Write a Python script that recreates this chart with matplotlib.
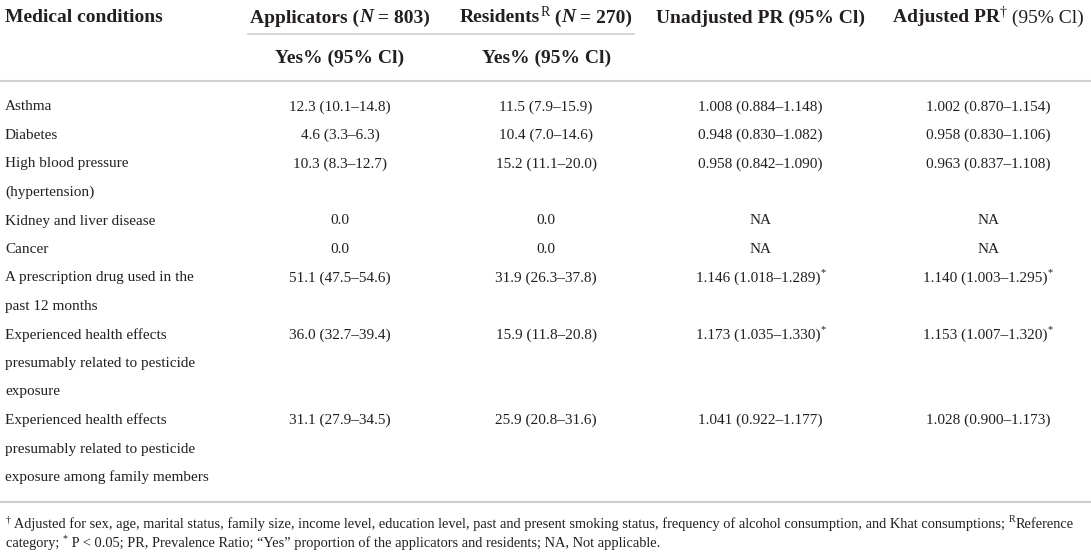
import matplotlib.pyplot as plt

# table content
conditions = [
    ["Asthma"],
    ["Diabetes"],
    ["High blood pressure", "(hypertension)"],
    ["Kidney and liver disease"],
    ["Cancer"],
    ["A prescription drug used in the", "past 12 months"],
    ["Experienced health effects", "presumably related to pesticide", "exposure"],
    ["Experienced health effects", "presumably related to pesticide",
     "exposure among family members"],
]
applicators = ["12.3 (10.1–14.8)", "4.6 (3.3–6.3)", "10.3 (8.3–12.7)", "0.0", "0.0",
               "51.1 (47.5–54.6)", "36.0 (32.7–39.4)", "31.1 (27.9–34.5)"]
residents = ["11.5 (7.9–15.9)", "10.4 (7.0–14.6)", "15.2 (11.1–20.0)", "0.0", "0.0",
             "31.9 (26.3–37.8)", "15.9 (11.8–20.8)", "25.9 (20.8–31.6)"]
unadjusted = ["1.008 (0.884–1.148)", "0.948 (0.830–1.082)", "0.958 (0.842–1.090)", "NA", "NA",
              "1.146 (1.018–1.289)*", "1.173 (1.035–1.330)*", "1.041 (0.922–1.177)"]
adjusted = ["1.002 (0.870–1.154)", "0.958 (0.830–1.106)", "0.963 (0.837–1.108)", "NA", "NA",
            "1.140 (1.003–1.295)*", "1.153 (1.007–1.320)*", "1.028 (0.900–1.173)"]

foot1 = (" Adjusted for sex, age, marital status, family size, income level, education level, "
         "past and present smoking status, frequency of alcohol consumption, and Khat consumptions; ")
foot2 = (" P < 0.05; PR, Prevalence Ratio; “Yes” proportion of the applicators and residents; "
         "NA, Not applicable.")

plt.rcParams['font.family'] = ['Liberation Serif', 'DejaVu Serif']
INK = '#231f20'
RULE = '#cfcfcf'

fig = plt.figure(figsize=(10.91, 5.53), dpi=100)
ax = fig.add_axes([0, 0, 1, 1])
ax.set_xlim(0, 1091)
ax.set_ylim(553, 0)
ax.axis('off')
renderer = fig.canvas.get_renderer()


# draw a list of (text, props) pieces one after another on a line
def draw_runs(x, y, runs, ha='left'):
    texts = []
    widths = []
    for s, props in runs:
        p = dict(props)
        dy = p.pop('dy', 0)
        t = ax.text(0, y + dy, s, va='center', ha='left', color=INK, **p)
        texts.append(t)
        widths.append(t.get_window_extent(renderer).width)
    total = sum(widths)
    if ha == 'center':
        x = x - total / 2
    elif ha == 'right':
        x = x - total
    for t, w in zip(texts, widths):
        t.set_x(x)
        x += w
    return total


B = dict(size=14, weight='bold')
BI = dict(size=14, weight='bold', style='italic')
R14 = dict(size=14)
SUP = dict(size=10, dy=-6)
BODY = dict(size=11)
SUPB = dict(size=7.5, dy=-5)

# header positions
col_left = [5, 250, 460, 656, 893]
head_y = 18
sub_y = 58

draw_runs(col_left[0], head_y, [("Medical conditions", B)])
w_app = draw_runs(col_left[1], head_y, [("Applicators (", B), ("N", BI), (" = 803)", B)])
w_res = draw_runs(col_left[2], head_y, [("Residents", B), ("R", SUP), (" (", B), ("N", BI), (" = 270)", B)])
w_un = draw_runs(col_left[3], head_y, [("Unadjusted PR (95% Cl)", B)])
w_ad = draw_runs(col_left[4], head_y, [("Adjusted PR", B), ("†", SUP), (" (95% Cl)", R14)])

centers = [col_left[1] + w_app / 2, col_left[2] + w_res / 2,
           col_left[3] + w_un / 2, col_left[4] + w_ad / 2]

ax.plot([col_left[1] - 2, col_left[2] + w_res + 2], [34, 34], color=RULE, lw=1.2)
draw_runs(centers[0], sub_y, [("Yes% (95% Cl)", B)], ha='center')
draw_runs(centers[1], sub_y, [("Yes% (95% Cl)", B)], ha='center')
ax.plot([0, 1091], [81, 81], color=RULE, lw=1.5)

# body rows
y0 = 107
pitch = 28.5
line = 0
for i, lines in enumerate(conditions):
    y = y0 + line * pitch
    for k, s in enumerate(lines):
        draw_runs(col_left[0], y + k * pitch, [(s, BODY)])
    for c, col in enumerate([applicators, residents, unadjusted, adjusted]):
        val = col[i]
        runs = [(val.rstrip('*'), BODY)]
        if val.endswith('*'):
            runs.append(("*", SUPB))
        draw_runs(centers[c], y, runs, ha='center')
    line += len(lines)

ax.plot([0, 1091], [502, 502], color=RULE, lw=1.5)

# footnote, fitted to the table width
fs = 9.0
probe = ax.text(0, 0, "†" + foot1 + "RReference", size=fs)
wpx = probe.get_window_extent(renderer).width
probe.remove()
fs = fs * 1075 / wpx
FN = dict(size=fs)
FSUP = dict(size=fs * 0.7, dy=-4)
draw_runs(6, 524, [("†", FSUP), (foot1, FN), ("R", FSUP), ("Reference", FN)])
draw_runs(6, 543, [("category; ", FN), ("*", FSUP), (foot2, FN)])

fig.savefig('out.png', dpi=100)
